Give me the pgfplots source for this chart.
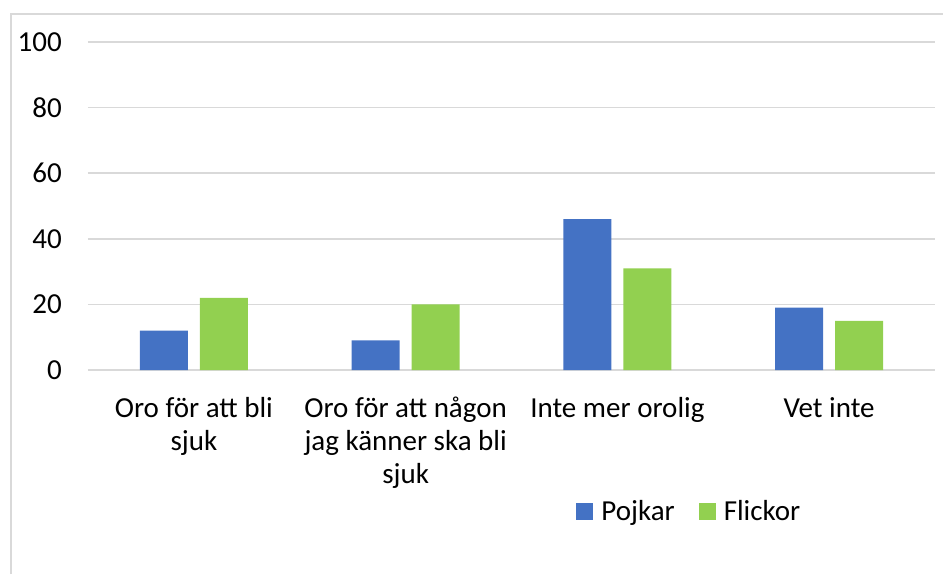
\documentclass[border=0pt]{standalone}
\usepackage{fontspec}
\setmainfont{Carlito}
\usepackage{pgfplots}
\pgfplotsset{compat=1.18}
\definecolor{cblue}{HTML}{4472C4}
\definecolor{cgreen}{HTML}{92D050}
\definecolor{cgrid}{HTML}{D9D9D9}
\begin{document}
\fontsize{29}{33}\selectfont
\begin{tikzpicture}[x=1pt,y=1pt]
\useasboundingbox (0,0) rectangle (943,574);
\draw[cgrid, line width=1.5pt] (11,0) -- (11,560) -- (943,560);
\begin{axis}[
  at={(88pt,204pt)}, anchor=south west,
  scale only axis, width=847pt, height=328pt,
  xmin=-0.5, xmax=3.5, ymin=0, ymax=100,
  ytick={0,20,...,100},
  xtick={0,1,2,3},
  xticklabels={{\strut Oro för att bli\\sjuk},{\strut Oro för att någon\\jag känner ska bli\\sjuk},{\strut Inte mer orolig},{\strut Vet inte}},
  axis line style={draw=none},
  major tick length=0pt,
  ymajorgrids, grid style={cgrid, line width=1.5pt},
  /pgf/number format/assume math mode=true,
  tick label style={font=\fontsize{29}{33}\selectfont},
  xticklabel style={anchor=north, inner sep=0pt, yshift=-24pt, align=center},
  yticklabel style={anchor=east, inner sep=0pt, xshift=-26pt},
  ybar, bar width=48pt,
  legend style={at={(0.71,-0.434)}, anchor=center, draw=none, fill=none,
    font=\fontsize{29}{33}\selectfont, legend columns=2,
    /tikz/every even column/.append style={column sep=22pt}},
  legend image code/.code={\fill[#1] (0pt,-8pt) rectangle (17pt,9pt); \path (23pt,0pt);},
  extra y ticks={0}, extra y tick labels={},
  extra y tick style={grid style={cgrid, line width=2pt}},
]
\addplot[fill=cblue, draw=none, bar shift=-30pt] coordinates {(0,12) (1,9) (2,46) (3,19)};
\addplot[fill=cgreen, draw=none, bar shift=30pt] coordinates {(0,22) (1,20) (2,31) (3,15)};
\legend{Pojkar, Flickor}
\end{axis}
\end{tikzpicture}
\end{document}
